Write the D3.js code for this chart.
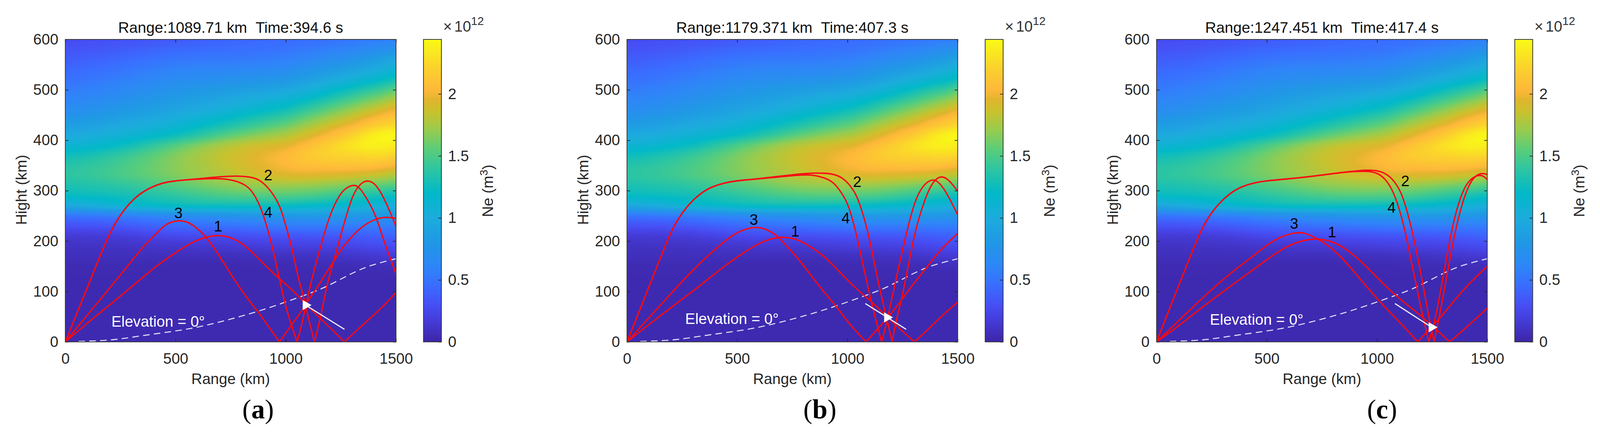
<!DOCTYPE html>
<html>
<head>
<meta charset="utf-8">
<script src="https://cdn.jsdelivr.net/npm/d3@7"></script>
<style>
  html, body { margin: 0; padding: 0; background: #fff; overflow: hidden; }
  svg { display: block; width: 100vw; height: 100vh; }
  text { font-family: "Liberation Sans", Arial, sans-serif; }
</style>
</head>
<body>
<script>
// Ne field, one array per range column (units of 1e12)
const neHeights = [0, 120, 150, 170, 190, 210, 230, 250, 270, 290, 310, 330, 350, 370, 390, 410, 430, 460, 490, 520, 560, 600];
const neRanges = [0, 250, 500, 750, 1000, 1150, 1300, 1420, 1500];
const neAt0 = [.03, .03, .04, .07, .1, .16, .3, .5, .92, 1.2, 1.3, 1.36, 1.33, 1.23, 1.08, .95, .82, .66, .56, .47, .36, .27];
const neAt250 = [.03, .03, .04, .07, .1, .17, .33, .56, 1.08, 1.26, 1.37, 1.47, 1.46, 1.38, 1.2, 1.08, .96, .8, .67, .56, .43, .31];
const neAt500 = [.03, .03, .03, .07, .14, .27, .45, .68, 1.22, 1.38, 1.52, 1.65, 1.68, 1.66, 1.52, 1.22, 1.08, .92, .8, .68, .53, .36];
const neAt750 = [.03, .03, .03, .07, .15, .28, .48, .75, 1.25, 1.52, 1.7, 1.8, 1.84, 1.87, 1.82, 1.58, 1.32, 1.08, .9, .72, .53, .42];
const neAt1000 = [.03, .03, .04, .09, .2, .33, .55, .8, 1.22, 1.52, 1.72, 1.95, 2.06, 2.04, 1.93, 1.77, 1.58, 1.27, 1.03, .78, .57, .45];
const neAt1150 = [.03, .03, .05, .1, .2, .33, .55, .82, 1.18, 1.47, 1.7, 1.92, 2.08, 2.2, 2.13, 1.97, 1.8, 1.5, 1.17, .92, .66, .48];
const neAt1300 = [.03, .03, .05, .12, .23, .35, .55, .8, 1.12, 1.38, 1.62, 1.9, 2.1, 2.22, 2.33, 2.2, 2, 1.72, 1.4, 1.07, .74, .52];
const neAt1420 = [.03, .03, .06, .15, .27, .4, .56, .78, 1.05, 1.28, 1.55, 1.83, 2.08, 2.27, 2.4, 2.42, 2.2, 1.9, 1.55, 1.18, .86, .57];
const neAt1500 = [.03, .03, .07, .17, .27, .4, .55, .76, 1, 1.22, 1.5, 1.76, 2, 2.2, 2.33, 2.4, 2.25, 2, 1.7, 1.3, .95, .6];
const neColumns = [neAt0, neAt250, neAt500, neAt750, neAt1000, neAt1150, neAt1300, neAt1420, neAt1500];
const neMax = 2.44;

// parula as it shows on the colorbar
const colorValues = [0, .2, .3, .45, .6, .8, 1, 1.2, 1.4, 1.55, 1.7, 1.85, 1.95, 2.03, 2.2, 2.44];
const colorStops = ['#3d26a8', '#4640e0', '#4650f5', '#3a6cff', '#2f85f8', '#2098e5', '#1cacdc', '#02b9c8', '#30c69f', '#5acd7a', '#95cc50', '#c8c22e', '#e0b52e', '#feb83a', '#fbd02e', '#f9fb15'];

// rays, [range km, height km], a height of 0 is a ground hit
const rayA1 = [[0,0],[101,38],[218,79],[335,122],[422,154],[510,180],[568,196],[627,207],[685,212],[744,209],[802,196],[854,175],[884,162],[925,144],[977,123],[1030,103],[1077,81],[1100,71],[1158,46],[1211,24],[1266,0],[1322,23],[1380,46],[1439,69],[1500,98]];
const rayA2 = [[0,0],[43,46],[101,109],[159,172],[186,200],[218,229],[247,250],[276,267],[311,284],[358,300],[421,313],[480,319],[568,322],[656,326],[743,329],[802,329],[860,326],[895,317],[930,301],[960,281],[983,258],[1006,221],[1030,183],[1059,121],[1080,92],[1100,51],[1130,0],[1157,46],[1187,116],[1222,167],[1252,216],[1281,260],[1304,291],[1328,308],[1351,318],[1374,320],[1398,316],[1421,304],[1444,286],[1468,263],[1500,229]];
const rayA3 = [[0,0],[101,54],[189,100],[276,147],[346,185],[370,196],[411,214],[451,232],[481,238],[516,241],[551,239],[592,228],[638,209],[685,180],[744,139],[802,100],[860,67],[884,54],[942,18],[971,0],[1030,36],[1077,64],[1100,82],[1135,103],[1176,131],[1217,160],[1258,188],[1293,206],[1333,224],[1374,237],[1415,245],[1456,248],[1500,245]];
const rayA4 = [[0,0],[43,46],[101,109],[159,172],[186,200],[218,229],[247,250],[276,267],[311,284],[358,300],[421,313],[480,319],[568,322],[656,324],[714,324],[773,320],[825,310],[855,294],[884,270],[913,232],[942,183],[971,126],[1000,67],[1030,28],[1051,0],[1074,36],[1094,79],[1117,123],[1147,172],[1176,218],[1205,257],[1234,284],[1263,303],[1304,312],[1328,309],[1351,296],[1380,275],[1409,250],[1439,208],[1468,172],[1500,135]];

const rayB1 = [[0,0],[95,33],[211,72],[328,110],[445,152],[533,178],[591,194],[650,205],[714,209],[778,203],[836,188],[895,170],[953,144],[1012,117],[1070,94],[1129,72],[1187,46],[1245,23],[1304,0],[1362,23],[1421,49],[1500,79]];
const rayB2 = [[0,0],[36,39],[95,104],[153,168],[182,200],[211,228],[241,250],[270,267],[299,281],[328,292],[357,301],[387,308],[445,316],[503,320],[562,322],[679,328],[778,333],[836,335],[906,335],[953,331],[988,322],[1018,307],[1041,291],[1064,263],[1088,227],[1111,180],[1134,131],[1158,82],[1181,41],[1203,0],[1219,41],[1245,82],[1269,136],[1298,201],[1321,242],[1350,281],[1374,307],[1403,325],[1432,329],[1461,321],[1500,299]];
const rayB3 = [[0,0],[95,46],[182,87],[270,130],[357,167],[416,190],[474,211],[533,224],[585,228],[626,225],[679,212],[720,192],[778,165],[836,131],[895,98],[953,69],[1012,33],[1085,0],[1140,28],[1181,46],[1245,83],[1304,118],[1362,149],[1421,183],[1500,215]];
const rayB4 = [[0,0],[36,39],[95,104],[153,168],[182,200],[211,228],[241,250],[270,267],[299,281],[328,292],[357,301],[387,308],[445,316],[503,320],[562,322],[661,326],[778,331],[836,332],[895,326],[936,317],[965,301],[994,281],[1012,260],[1035,224],[1058,178],[1082,131],[1105,85],[1129,43],[1155,0],[1178,38],[1204,92],[1234,152],[1269,219],[1298,268],[1321,294],[1350,314],[1386,323],[1409,319],[1438,304],[1467,281],[1500,252]];

const rayC1 = [[0,0],[93,29],[210,70],[327,108],[444,145],[561,183],[648,201],[736,206],[806,198],[864,183],[923,162],[981,136],[1040,110],[1098,87],[1156,67],[1215,46],[1273,23],[1329,0],[1390,23],[1449,46],[1500,67]];
const rayC2 = [[0,0],[35,39],[93,104],[152,168],[181,200],[210,228],[239,250],[269,267],[298,281],[327,292],[356,301],[386,308],[444,316],[502,320],[619,324],[736,330],[835,336],[923,340],[970,341],[1016,339],[1057,329],[1086,314],[1110,296],[1133,265],[1156,227],[1180,178],[1203,126],[1227,69],[1244,30],[1259,0],[1279,43],[1302,95],[1332,170],[1361,232],[1390,281],[1419,314],[1448,331],[1478,335],[1500,332]];
const rayC3 = [[0,0],[93,39],[210,88],[327,134],[415,162],[502,193],[561,209],[637,218],[678,216],[736,203],[777,192],[835,170],[894,140],[952,110],[1010,81],[1069,54],[1127,28],[1185,0],[1221,18],[1273,41],[1332,72],[1390,103],[1449,129],[1500,150]];
const rayC4 = [[0,0],[35,39],[93,104],[152,168],[181,200],[210,228],[239,250],[269,267],[298,281],[327,292],[356,301],[386,308],[444,316],[502,320],[619,324],[736,330],[835,336],[894,338],[952,339],[999,336],[1034,325],[1063,307],[1086,284],[1110,250],[1133,209],[1156,157],[1180,110],[1203,59],[1235,0],[1267,48],[1302,136],[1338,221],[1361,263],[1390,301],[1419,322],[1460,332],[1484,329],[1500,322]];

const elevationLine = [[60,1],[218,3],[335,12],[568,25],[714,41],[825,54],[942,70],[1082,92],[1176,107],[1293,135],[1380,152],[1500,165]];

const titles = ['Range:1089.71 km\u00a0\u00a0Time:394.6 s', 'Range:1179.371 km\u00a0\u00a0Time:407.3 s', 'Range:1247.451 km\u00a0\u00a0Time:417.4 s'];
const subLabels = ['a', 'b', 'c'];
const subLabelX = [668, 2122, 3577];
const plotLeft = [169, 1622.7, 2993.3];
const fieldDrift = [0, 25, 30];
const elevationAt = [[209, 30.5], [264, 35.6], [242, 34]];
const receiver = [[1089.71, 73], [1179.37, 48.5], [1247.45, 29]];
const arrowStart = [[1266, 25], [1081, 76], [1081, 76]];
const arrowEnd = [[1089.71, 73], [1266, 25], [1247.45, 29]];
const rayLabelsA = [['1', 693, 230], ['2', 920, 331], ['3', 513, 256], ['4', 920, 258]];
const rayLabelsB = [['1', 763, 220], ['2', 1044, 318], ['3', 575, 243], ['4', 992, 246]];
const rayLabelsC = [['1', 796, 218], ['2', 1128, 320], ['3', 624, 235], ['4', 1066, 267]];
const raySets = [[rayA1, rayA2, rayA3, rayA4], [rayB1, rayB2, rayB3, rayB4], [rayC1, rayC2, rayC3, rayC4]];
const rayLabels = [rayLabelsA, rayLabelsB, rayLabelsC];

const rangeTicks = [0, 500, 1000, 1500];
const heightTicks = [0, 100, 200, 300, 400, 500, 600];
const barTicks = [0, .5, 1, 1.5, 2];

const plotTop = 101, plotBottom = 876, plotWidth = 856;
const fontSize = 39;
const ink = '#262626';

// the browser may cap the window below 4141, the viewBox keeps the whole figure in
const svg = d3.select('body').append('svg')
  .attr('viewBox', '0 0 4141 1112')
  .attr('preserveAspectRatio', 'none');

const neColor = d3.scaleLinear().domain(colorValues).range(colorStops).clamp(true);
const lut = d3.range(1025).map(i => {
  const c = d3.rgb(neColor(i / 1024 * neMax));
  return [c.r, c.g, c.b];
});

const colIndex = d3.scaleLinear().domain(neRanges).range(d3.range(neRanges.length)).clamp(true);
const rowIndex = d3.scaleLinear().domain(neHeights).range(d3.range(neHeights.length)).clamp(true);
const catmull = (a, b, c, d, t) => .5 * (2 * b + (c - a) * t + (2 * a - 5 * b + 4 * c - d) * t * t + (3 * b - a - 3 * c + d) * t * t * t);
const bspline = (a, b, c, d, t) => ((1 - t) ** 3 * a + (3 * t ** 3 - 6 * t * t + 4) * b + (-3 * t ** 3 + 3 * t * t + 3 * t + 1) * c + t ** 3 * d) / 6;
const pick = (n, i) => Math.max(0, Math.min(n - 1, i));

const neAt = (range, height) => {
  const ci = colIndex(range), ri = rowIndex(height);
  const c0 = Math.floor(ci), r0 = Math.floor(ri);
  const vals = [-1, 0, 1, 2].map(dc => {
    const col = neColumns[pick(neColumns.length, c0 + dc)];
    return catmull(col[pick(22, r0 - 1)], col[pick(22, r0)], col[pick(22, r0 + 1)], col[pick(22, r0 + 2)], ri - r0);
  });
  return bspline(vals[0], vals[1], vals[2], vals[3], ci - c0);
};

const drawField = (g, x, y, drift) => {
  const w = Math.round(plotWidth), h = plotBottom - plotTop;
  const canvas = document.createElement('canvas');
  canvas.width = w;
  canvas.height = h;
  const ctx = canvas.getContext('2d');
  const img = ctx.createImageData(w, h);
  for (let j = 0; j < h; j++) {
    const height = y.invert(plotTop + j + .5);
    for (let i = 0; i < w; i++) {
      const range = x.invert(x.range()[0] + i + .5) - drift;
      const v = Math.max(0, Math.min(neMax, neAt(range, height)));
      const c = lut[Math.round(v / neMax * 1024)];
      const k = (j * w + i) * 4;
      img.data[k] = c[0];
      img.data[k + 1] = c[1];
      img.data[k + 2] = c[2];
      img.data[k + 3] = 255;
    }
  }
  ctx.putImageData(img, 0, 0);
  g.append('image')
    .attr('x', x.range()[0]).attr('y', plotTop)
    .attr('width', w).attr('height', h)
    .attr('preserveAspectRatio', 'none')
    .attr('href', canvas.toDataURL());
};

const toHops = ray => {
  const hops = [];
  let cur = [ray[0]];
  ray.slice(1).forEach(p => {
    cur.push(p);
    if (p[1] === 0) { hops.push(cur); cur = [p]; }
  });
  if (cur.length > 1) hops.push(cur);
  return hops;
};

const styleAxis = (g, size) => {
  g.selectAll('.domain').remove();
  g.selectAll('line').attr('stroke', ink).attr('stroke-width', 1.8);
  g.selectAll('text').attr('fill', ink).style('font-size', size + 'px').style('font-family', '"Liberation Sans", Arial, sans-serif');
};

titles.forEach((title, p) => {
  const left = plotLeft[p];
  const x = d3.scaleLinear().domain([0, 1500]).range([left, left + plotWidth]);
  const y = d3.scaleLinear().domain([0, 600]).range([plotBottom, plotTop]);
  const g = svg.append('g');

  drawField(g, x, y, fieldDrift[p]);

  g.append('clipPath').attr('id', 'clip' + p).append('rect')
    .attr('x', left).attr('y', plotTop).attr('width', plotWidth).attr('height', plotBottom - plotTop);
  const plot = g.append('g').attr('clip-path', `url(#clip${p})`);

  const line = d3.line().x(d => x(d[0])).y(d => y(d[1]));

  // dashed 0 degree elevation line
  plot.append('path')
    .attr('d', line.curve(d3.curveBasis)(elevationLine))
    .attr('fill', 'none').attr('stroke', '#fff').attr('stroke-opacity', .85)
    .attr('stroke-width', 2.6).attr('stroke-dasharray', '17,11');

  raySets[p].forEach(ray => {
    toHops(ray).forEach(hop => {
      plot.append('path')
        .attr('d', line.curve(d3.curveBasis)(hop))
        .attr('fill', 'none').attr('stroke', '#fa0a14').attr('stroke-width', 3.6);
    });
  });

  // receiver arrow and marker
  plot.append('line')
    .attr('x1', x(arrowStart[p][0])).attr('y1', y(arrowStart[p][1]))
    .attr('x2', x(arrowEnd[p][0])).attr('y2', y(arrowEnd[p][1]))
    .attr('stroke', '#fff').attr('stroke-opacity', .92).attr('stroke-width', 3);
  const mx = x(receiver[p][0]), my = y(receiver[p][1]);
  plot.append('path')
    .attr('d', `M${mx - 7.5},${my - 13}L${mx + 15.5},${my}L${mx - 7.5},${my + 13}Z`)
    .attr('fill', '#fff');

  g.append('text')
    .attr('x', x(elevationAt[p][0])).attr('y', y(elevationAt[p][1]))
    .attr('fill', '#fff').style('font-size', fontSize + 'px')
    .text('Elevation = 0\u00b0');

  rayLabels[p].forEach(d => {
    g.append('text')
      .attr('x', x(d[1])).attr('y', y(d[2])).attr('dy', '.36em')
      .attr('text-anchor', 'middle').attr('fill', '#000')
      .style('font-size', fontSize + 'px').text(d[0]);
  });

  // frame with inward ticks on all four sides
  const bottom = g.append('g').attr('transform', `translate(0,${plotBottom})`)
    .call(d3.axisBottom(x).tickValues(rangeTicks).tickFormat(d3.format('d')).tickSize(-8).tickPadding(28));
  const leftAxis = g.append('g').attr('transform', `translate(${left},0)`)
    .call(d3.axisLeft(y).tickValues(heightTicks).tickFormat(d3.format('d')).tickSize(-8).tickPadding(18));
  const top = g.append('g').attr('transform', `translate(0,${plotTop})`)
    .call(d3.axisTop(x).tickValues(rangeTicks).tickFormat('').tickSize(-8));
  const rightAxis = g.append('g').attr('transform', `translate(${left + plotWidth},0)`)
    .call(d3.axisRight(y).tickValues(heightTicks).tickFormat('').tickSize(-8));
  [bottom, leftAxis, top, rightAxis].forEach(a => styleAxis(a, fontSize));
  g.append('rect')
    .attr('x', left).attr('y', plotTop).attr('width', plotWidth).attr('height', plotBottom - plotTop)
    .attr('fill', 'none').attr('stroke', '#3a3a3a').attr('stroke-width', 2);

  g.append('text')
    .attr('x', left + 428).attr('y', 84).attr('text-anchor', 'middle')
    .attr('fill', '#111').style('font-size', '39.5px').text(title);
  g.append('text')
    .attr('x', left + 428).attr('y', 984).attr('text-anchor', 'middle')
    .attr('fill', ink).style('font-size', fontSize + 'px').text('Range (km)');
  g.append('text')
    .attr('transform', `translate(${left - 100},${(plotTop + plotBottom) / 2 - 2}) rotate(-90)`)
    .attr('text-anchor', 'middle').attr('fill', ink)
    .style('font-size', fontSize + 'px').text('Hight (km)');

  // colorbar
  const barLeft = left + 927, barWidth = 46.5;
  const barY = d3.scaleLinear().domain([0, neMax]).range([plotBottom, plotTop]);
  const barSteps = d3.range(0, neMax, neMax / 388);
  g.selectAll('.step').data(barSteps).enter().append('rect')
    .attr('class', 'step')
    .attr('x', barLeft).attr('width', barWidth)
    .attr('y', d => barY(d) - 2.5).attr('height', 3)
    .attr('fill', d => neColor(d));
  const barAxis = g.append('g').attr('transform', `translate(${barLeft + barWidth},0)`)
    .call(d3.axisRight(barY).tickValues(barTicks).tickFormat(d3.format('')).tickSize(-8).tickPadding(17));
  styleAxis(barAxis, fontSize);
  g.append('rect')
    .attr('x', barLeft).attr('y', plotTop).attr('width', barWidth).attr('height', plotBottom - plotTop)
    .attr('fill', 'none').attr('stroke', '#3a3a3a').attr('stroke-width', 2);

  const factor = g.append('text').attr('x', barLeft + 51).attr('y', 81).attr('fill', '#333').style('font-size', fontSize + 'px');
  factor.append('tspan').text('\u00d7');
  factor.append('tspan').attr('dx', 6).text('10');
  factor.append('tspan').attr('dy', -17).style('font-size', '30px').text('12');

  const neLabel = g.append('text')
    .attr('transform', `translate(${left + 1107},489) rotate(-90)`)
    .attr('text-anchor', 'middle').attr('fill', ink).style('font-size', fontSize + 'px');
  neLabel.append('tspan').text('Ne (m');
  neLabel.append('tspan').attr('dy', -14).style('font-size', '28px').text('3');
  neLabel.append('tspan').attr('dy', 14).text(')');

  const sub = svg.append('text')
    .attr('x', subLabelX[p]).attr('y', 1072).attr('text-anchor', 'middle')
    .attr('fill', '#000').style('font-size', '70px').style('font-family', '"Liberation Serif", serif');
  sub.append('tspan').text('(');
  sub.append('tspan').style('font-weight', 'bold').text(subLabels[p]);
  sub.append('tspan').text(')');
});
</script>
</body>
</html>
